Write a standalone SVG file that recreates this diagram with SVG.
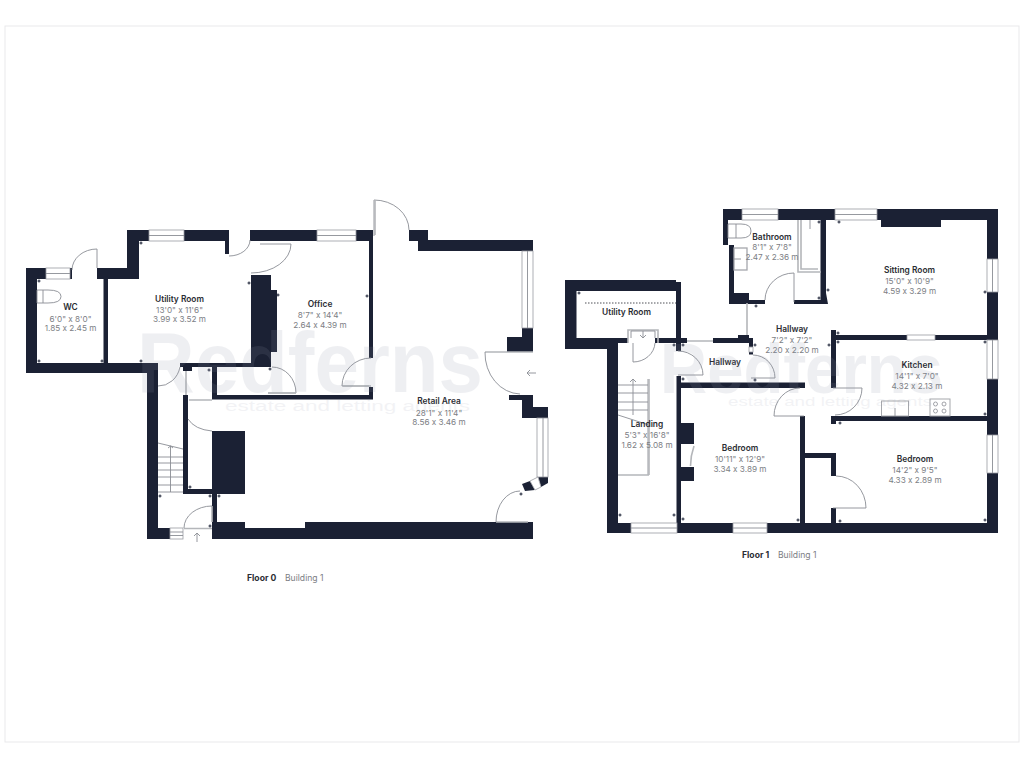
<svg xmlns="http://www.w3.org/2000/svg" width="1024" height="768" viewBox="0 0 1024 768">
<defs><path id="k" d="M-1.500,0H1.500M0,-1.500V1.500" stroke="#1b2134" stroke-width="1" fill="none"/></defs>
<style>
.w{fill:#1b2134}
.l{fill:none;stroke:#8a8d94;stroke-width:.9}
.g{fill:none;stroke:#b4b6ba;stroke-width:1.6}
.win{fill:#fff;stroke:#9a9ca2;stroke-width:.8}
.t{font-family:"Inter","Liberation Sans",sans-serif;font-size:8.4px;font-weight:600;fill:#2b2d33;text-anchor:middle;font-variant-ligatures:no-contextual}
.d{font-family:"Inter","Liberation Sans",sans-serif;font-size:8.2px;fill:#7c7e84;text-anchor:middle;font-variant-ligatures:no-contextual}
.wm{font-family:"Liberation Sans",sans-serif;font-weight:700;fill:#8f95a8;opacity:.14}
.wms{font-family:"Liberation Sans",sans-serif;fill:#8f95a8;opacity:.11}
.ft{font-family:"Inter","Liberation Sans",sans-serif;font-size:8.6px;font-weight:700;fill:#2b2d33}
.fb{font-family:"Inter","Liberation Sans",sans-serif;font-size:8.6px;fill:#7c7e84}
</style>
<rect width="1024" height="768" fill="#fff"/>
<rect x="5" y="26" width="1014" height="716" fill="none" stroke="#e9e9eb" stroke-width="1"/>

<g id="floor0-walls" class="w">
<polygon points="26,268 46,268 46,279 37,279 37,363 158,363 158,539 147,539 147,373 26,373"/>
<rect x="70" y="268" width="2" height="11"/>
<polygon points="97,268 127,268 127,230 229,230 229,254 225,254 225,241 139,241 139,279 97,279"/>
<rect x="103.500" y="279" width="4.500" height="84"/>
<polygon points="250,230 373,230 373,358 369,358 369,241 250,241"/>
<polygon points="147,528 170,528 170,539 147,539"/>
<polygon points="409,230 428,230 428,240 533,240 533,251 418,251 418,241 409,241"/>
<polygon points="522,328 533,328 533,352 507,352 507,337 522,337"/>
<polygon points="509,395 533,395 533,407 548,407 548,418 522,418 522,400 509,400"/>
<polygon points="522,484 530,481 535,490 525,491"/>
<polygon points="538,477 548,477 548,483 541,487"/>
<polygon points="217,522 245,522 245,528 305,528 305,522 533,522 533,539 212,539 212,493 217,493"/>
<rect x="212" y="431" width="33" height="63"/>
<polygon points="183,395 188,395 188,489 212,489 212,494 183,494"/>
<polygon points="180,363 251,363 251,275 271,275 271,290 277,290 277,352 271,352 271,367 192,367 192,371 183,371 183,367 180,367"/>
<rect x="212" y="367" width="5" height="32"/>
<rect x="212" y="395" width="161" height="4.500"/>
<rect x="369" y="387" width="4" height="12"/>
</g>

<g id="floor0-fittings">
<rect class="win" x="46" y="268" width="24" height="11"/><path class="l" d="M46,273.500H70"/>
<rect class="win" x="149" y="230" width="35" height="11"/><path class="l" d="M149,235.500H184"/>
<rect class="win" x="317" y="230" width="39" height="11"/><path class="l" d="M317,235.500H356"/>
<rect class="win" x="522" y="251" width="11" height="77"/><path class="l" d="M527.500,251V328"/>
<rect class="win" x="537" y="418" width="11" height="59"/><path class="l" d="M543,418V477"/>
<polygon class="win" points="530,481 538,477 541,487 535,490"/>
<rect class="win" x="170" y="528" width="13" height="11"/><path class="l" d="M170,532H183M170,535.500H183"/>
<path class="l" d="M97,249V268M72,270A25,21 0 0 1 97,249"/>
<path class="l" d="M229,256A21,16 0 0 0 250,240M251,273A40,29 0 0 0 291,244M260,244H291"/>
<path class="l" d="M374,200V236M374,200A35,30 0 0 1 409,230"/>
<path class="l" d="M371,358A29,28 0 0 0 342,386H371"/>
<path class="g" d="M343,386H369M375,200V235M485,352H533M496,522H528"/>
<path class="l" d="M485,352A36,41 0 0 0 520,394"/>
<path class="l" d="M520,491A24,31 0 0 0 496,522"/>
<path class="l" d="M158,386A22,24 0 0 0 180,367"/>
<path class="l" d="M272,367A24,26 0 0 1 296,393H268"/>
<path class="g" d="M268,393H296M186,371V395M189,400H212M184,528.500H212M212,506V522"/>
<path class="l" d="M188,419A30,20 0 0 0 212,431"/>
<path class="l" d="M184,528A28,22 0 0 1 212,506"/>
<path class="l" d="M158,443L183,449M170.500,446V492M158,457H183M158,463H183M158,470H183M158,477H183M158,485H183M158,492H183M168,448L170.500,446L173,448"/>
<path class="l" d="M37,290H48Q61,290 61,296.500Q61,303 48,303H37ZM43,290V303"/>
<path class="l" d="M197,542V533M194,536L197,533L200,536"/>
<path class="l" d="M536,373H527M530,370L527,373L530,376"/>
</g>

<g id="floor1-walls" class="w">
<polygon points="565,280 676,280 676,291 576.500,291 576.500,338 628,338 628,343 618,343 618,533 607,533 607,349 565,349"/>
<rect x="676" y="282" width="5" height="69"/>
<polygon points="655,338 687,338 687,343 655,343"/>
<polygon points="713,338 738,338 738,335 749,335 749,338 753,338 753,347 749,347 749,343 713,343"/>
<rect x="749" y="352" width="4" height="2.500"/>
<rect x="676.500" y="376" width="4.500" height="150"/>
<rect x="681" y="382.500" width="124" height="5.500"/>
<rect x="607" y="523" width="126" height="10"/>
<rect x="767" y="523" width="231" height="10"/>
<rect x="681" y="423" width="13" height="21"/>
<rect x="681" y="467" width="13" height="14"/>
<rect x="800" y="416" width="5" height="107"/>
<polygon points="805,453 836,453 836,476 831,476 831,458 805,458"/>
<rect x="831" y="508" width="5" height="15"/>
<polygon points="831,416 987,416 987,421 836,421 836,424 831,424"/>
<polygon points="723,209 742,209 742,220 728,220 728,245 734,245 734,293 749,293 749,300 765,300 765,304 729,304 729,245 723,245"/>
<rect x="778" y="209" width="57" height="11"/>
<polygon points="877,209 998,209 998,259 987,259 987,220 941,220 941,227 881,227 881,220 877,220"/>
<polygon points="820.500,220 826,220 826,293 828,304 794,304 794,300 820.500,300"/>
<rect x="987" y="292" width="11" height="143"/>
<rect x="987" y="473" width="11" height="50"/>
<polygon points="831,330 836,330 836,335 987,335 987,340 836,340 836,388 831,388"/>
</g>

<g id="floor1-fittings">
<rect class="win" x="742" y="209" width="36" height="11"/><path class="l" d="M742,214.500H778"/>
<rect class="win" x="835" y="209" width="42" height="11"/><path class="l" d="M835,214.500H877"/>
<rect class="win" x="987" y="259" width="11" height="33"/><path class="l" d="M992.500,259V292"/>
<rect class="win" x="907" y="335" width="28" height="5"/>
<rect class="win" x="987" y="340" width="11" height="39"/><path class="l" d="M992.500,340V379"/>
<rect class="win" x="987" y="435" width="11" height="38"/><path class="l" d="M992.500,435V473"/>
<rect class="win" x="631" y="523" width="46" height="10"/><path class="l" d="M631,528H677"/>
<rect class="win" x="733" y="523" width="34" height="10"/><path class="l" d="M733,528H767"/>
<rect class="win" x="749" y="347" width="4" height="5"/>
<path class="l" d="M585,303H676" stroke-dasharray="1.500 1.500" style="stroke:#3a3c44"/>
<path class="g" d="M628,343V330H658V343M747,303V335M687,341H713M798,220V272H821M801,220V269H818"/>
<path class="l" d="M631,338V331H655V338M643,331V338M640,335L643,338L646,335"/>
<path class="l" d="M633,343V362A22,20 0 0 0 655,343"/>
<path class="l" d="M678,351A25,24 0 0 1 703,375H678"/>
<path class="l" d="M753,355A22,23 0 0 1 775,378H751"/>
<path class="l" d="M774,416A26,28 0 0 1 800,388M774,416H804"/>
<path class="l" d="M794,302V273A29,27 0 0 0 765,300"/>
<path class="l" d="M862,388H833M862,388A27,27 0 0 1 835,415"/>
<path class="l" d="M836,476A30,32 0 0 1 866,508H833"/>
<path class="l" d="M618,385H648M618,393H648M618,402H648M618,410H648M618,415L649,425M633,379V415M630,382L633,379L636,382M648,379V475"/>
<path class="g" d="M649,379V475M618,475H649"/>
<path class="l" d="M810,220V229"/>
<path class="l" d="M728,224H741Q751,224 751,231Q751,238 741,238H728ZM736,224V238"/>
<rect x="734" y="248" width="13" height="22" fill="none" stroke="#a5a7ac" stroke-width="1.300"/>
<path class="l" d="M734,259H741"/>
<path class="g" d="M690.500,466Q690.500,456 694,446"/>
<rect x="881.500" y="401" width="27" height="15" fill="#fff" stroke="#a5a7ac" stroke-width="1"/>
<path class="l" d="M895,408V416"/>
<rect x="930" y="399" width="20" height="17" fill="#fff" stroke="#a5a7ac" stroke-width="1"/>
<g fill="none" stroke="#8a8d94" stroke-width=".8"><circle cx="935.500" cy="404" r="2"/><circle cx="944" cy="404" r="2"/><circle cx="935.500" cy="411" r="2"/><circle cx="944" cy="411" r="2"/></g>
</g>

<g id="wall-ticks">
<use href="#k" x="39" y="281"/><use href="#k" x="39" y="361"/><use href="#k" x="102" y="361"/><use href="#k" x="141" y="243"/><use href="#k" x="141" y="361"/><use href="#k" x="249" y="283"/><use href="#k" x="278" y="295"/><use href="#k" x="367" y="296"/><use href="#k" x="270" y="369"/><use href="#k" x="209" y="370"/><use href="#k" x="190" y="487"/><use href="#k" x="160" y="496"/><use href="#k" x="210" y="496"/><use href="#k" x="219" y="496"/><use href="#k" x="210" y="526"/><use href="#k" x="521" y="494"/><use href="#k" x="579" y="293"/><use href="#k" x="674" y="345"/><use href="#k" x="683" y="345"/><use href="#k" x="683" y="379"/><use href="#k" x="755" y="345"/><use href="#k" x="755" y="380"/><use href="#k" x="756" y="306"/><use href="#k" x="819" y="222"/><use href="#k" x="819" y="298"/><use href="#k" x="839" y="222"/><use href="#k" x="828" y="290"/><use href="#k" x="985" y="292"/><use href="#k" x="838" y="333"/><use href="#k" x="838" y="342"/><use href="#k" x="829" y="345"/><use href="#k" x="985" y="342"/><use href="#k" x="985" y="414"/><use href="#k" x="840" y="423"/><use href="#k" x="840" y="521"/><use href="#k" x="985" y="520"/><use href="#k" x="620" y="515"/><use href="#k" x="674" y="515"/><use href="#k" x="683" y="519"/><use href="#k" x="798" y="520"/>
</g>

<g id="room-wc"><text class="t" x="70.500" y="310">WC</text><text class="d" x="70.500" y="322">6'0" x 8'0"</text><text class="d" x="70.500" y="331">1.85 x 2.45 m</text></g>
<g id="room-utility-0"><text class="t" x="179.500" y="301.500">Utility Room</text><text class="d" x="179.500" y="313">13'0" x 11'6"</text><text class="d" x="179.500" y="322">3.99 x 3.52 m</text></g>
<g id="room-office"><text class="t" x="320" y="307">Office</text><text class="d" x="320" y="318">8'7" x 14'4"</text><text class="d" x="320" y="328">2.64 x 4.39 m</text></g>
<g id="room-retail"><text class="t" x="439" y="404">Retail Area</text><text class="d" x="439" y="416">28'1" x 11'4"</text><text class="d" x="439" y="425">8.56 x 3.46 m</text></g>
<g id="floor0-label"><text class="ft" x="247" y="581">Floor 0</text><text class="fb" x="285" y="581">Building 1</text></g>

<g id="room-utility-1"><text class="t" x="626.500" y="314.500">Utility Room</text></g>
<g id="room-hallway-a"><text class="t" x="725" y="365">Hallway</text></g>
<g id="room-bathroom"><text class="t" x="772" y="240">Bathroom</text><text class="d" x="772" y="250">8'1" x 7'8"</text><text class="d" x="772" y="260">2.47 x 2.36 m</text></g>
<g id="room-sitting"><text class="t" x="909.500" y="273">Sitting Room</text><text class="d" x="909.500" y="284">15'0" x 10'9"</text><text class="d" x="909.500" y="294">4.59 x 3.29 m</text></g>
<g id="room-hallway-b"><text class="t" x="792" y="332">Hallway</text><text class="d" x="792" y="343">7'2" x 7'2"</text><text class="d" x="792" y="353">2.20 x 2.20 m</text></g>
<g id="room-kitchen"><text class="t" x="917" y="368">Kitchen</text><text class="d" x="917" y="379">14'1" x 7'0"</text><text class="d" x="917" y="389">4.32 x 2.13 m</text></g>
<g id="room-bedroom-r"><text class="t" x="915" y="462">Bedroom</text><text class="d" x="915" y="473">14'2" x 9'5"</text><text class="d" x="915" y="483">4.33 x 2.89 m</text></g>
<g id="room-landing"><text class="t" x="647" y="427">Landing</text><text class="d" x="647" y="438">5'3" x 16'8"</text><text class="d" x="647" y="448">1.62 x 5.08 m</text></g>
<g id="room-bedroom-l"><text class="t" x="740" y="451">Bedroom</text><text class="d" x="740" y="462">10'11" x 12'9"</text><text class="d" x="740" y="472">3.34 x 3.89 m</text></g>
<g id="floor1-label"><text class="ft" x="742" y="558">Floor 1</text><text class="fb" x="778" y="558">Building 1</text></g>

<g id="watermark">
<text class="wm" x="137" y="392" font-size="85" textLength="346" lengthAdjust="spacingAndGlyphs">Redferns</text>
<text class="wms" x="225" y="411" font-size="14" textLength="245" lengthAdjust="spacingAndGlyphs">estate and letting agents</text>
<text class="wm" x="660" y="393" font-size="70" textLength="283" lengthAdjust="spacingAndGlyphs">Redferns</text>
<text class="wms" x="728" y="406" font-size="12" textLength="204" lengthAdjust="spacingAndGlyphs">estate and letting agents</text>
</g>
</svg>
